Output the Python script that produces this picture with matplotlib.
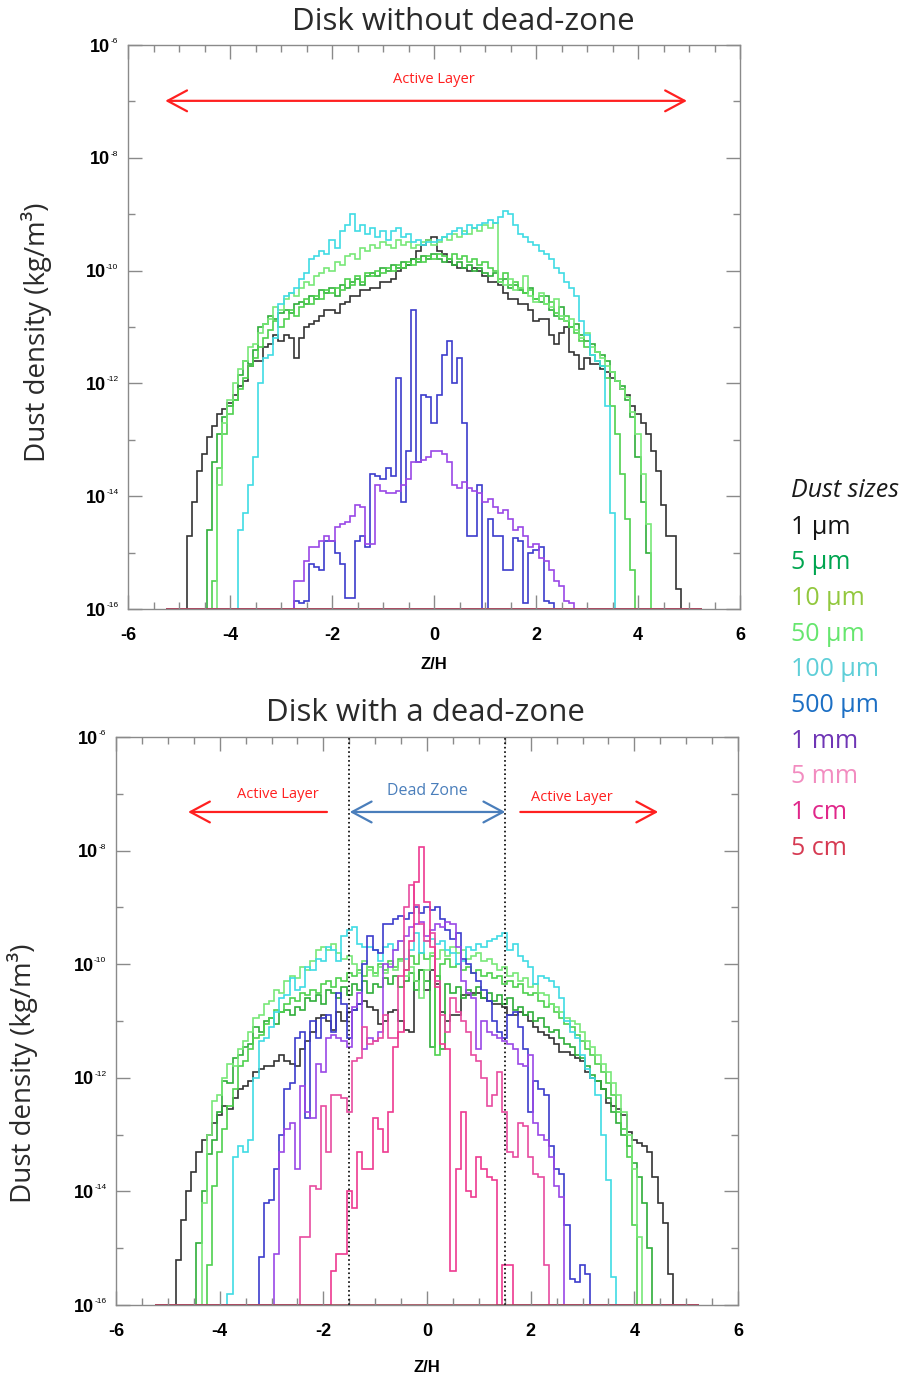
import numpy as np
import matplotlib.pyplot as plt
from matplotlib.ticker import FixedLocator, FuncFormatter, NullFormatter

sizes = ['1 µm', '5 µm', '10 µm', '50 µm', '100 µm', '500 µm', '1 mm', '5 mm', '1 cm', '5 cm']
line_colors = ['#333333', '#2fae3a', '#4fd14f', '#78e878', '#3fdbe4', '#3c3ccc',
               '#9a48e6', '#e84c9f', '#ee3a90', '#a8404f']
label_colors = ['#151515', '#00a550', '#92c83e', '#66e66e', '#5fcfd8', '#1c6fc4',
                '#6f35b5', '#f28cc0', '#e0278a', '#d63a52']

# histogram bins in Z/H
dz = 0.1
z_lo, z_hi = -5.25, 5.25
floor = 1e-16

# log10 dust density per bin; *_z0 is the centre of the first bin, None = empty bin
# ---- disk without dead-zone ----
top_1um_z0 = -4.8
top_1um = [-14.7, -14.1, -13.55, -13.25, -12.95, -12.75, -12.55, -12.45, -12.35,
           -12.2, -12.05, -11.95, -11.7, -11.6, -11.6, -11.35, -11.3, -11.15, -11.25,
           -11.15, -11.2, -11.55, -11.2, -11.0, -10.95, -10.9, -10.8, -10.7, -10.7,
           -10.75, -10.6, -10.55, -10.45, -10.45, -10.35, -10.35, -10.3, -10.3, -10.2,
           -10.2, -10.15, -10.0, -9.95, -9.9, -9.8, -9.65, -9.55, -9.45, -9.4,
           -9.65, -9.7, -9.85, -9.9, -9.95, -9.95, -10.0, -9.95, -10.0, -10.1,
           -10.2, -10.2, -10.25, -10.4, -10.5, -10.5, -10.6, -10.6, -10.7, -10.9,
           -10.85, -10.85, -11.15, -11.3, -11.1, -11.0, -11.45, -11.5, -11.75, -11.55,
           -11.65, -11.65, -11.75, -11.8, -11.9, -11.95, -12.1, -12.2, -12.4, -12.55,
           -12.7, -12.9, -13.2, -13.55, -14.15, -14.7, -14.7, -15.65]
top_5um_z0 = -4.4
top_5um = [-14.6, -13.4, -12.9, -12.6, -12.4,
           -12.3, -11.85, -11.6, -11.65, -11.4, -11.0, -10.95, -10.8, -10.85, -10.75,
           -10.7, -10.75, -10.6, -10.55, -10.6, -10.45, -10.5, -10.35, -10.4, -10.3,
           -10.45, -10.25, -10.3, -10.2, -10.15, -10.25, -10.1, -10.05, -10.1, -9.95,
           -10.0, -9.9, -9.95, -9.85, -9.9, -9.8, -9.85, -9.75, -9.8, -9.7,
           -9.8, -9.85, -9.8, -9.9, -9.85, -9.95, -9.9, -10.0, -9.95, -10.05,
           -10.1, -10.05, -10.2, -10.15, -10.3, -10.25, -10.35, -10.4, -10.3, -10.5,
           -10.55, -10.45, -10.7, -10.8, -10.65, -10.9, -11.0, -10.95, -11.15, -11.25,
           -11.3, -11.45, -11.5, -11.6, -11.8, -11.95, -12.05, -12.3, -12.6, -13.3,
           -14.1, -15.0]
top_10um_z0 = -4.3
top_10um = [-15.5, -13.5, -12.9, -12.55,
            -12.3, -12.1, -11.9, -11.7, -11.55, -11.35, -11.2, -11.05, -10.9, -11.0,
            -10.85, -10.7, -10.8, -10.65, -10.5, -10.6, -10.45, -10.5, -10.35, -10.4,
            -10.3, -10.35, -10.15, -10.25, -10.1, -10.2, -10.05, -10.1, -10.0, -10.05,
            -9.95, -10.0, -9.9, -9.95, -9.85, -9.9, -9.8, -9.85, -9.75, -9.8,
            -9.7, -9.75, -9.8, -9.7, -9.8, -9.75, -9.85, -9.8, -9.9, -9.85,
            -9.95, -10.0, -10.15, -10.05, -10.25, -10.2, -10.3, -10.4, -10.35, -10.5,
            -10.45, -10.6, -10.55, -10.75, -10.85, -10.8, -11.0, -11.1, -11.25, -11.35,
            -11.5, -11.6, -11.7, -11.9, -12.4, -12.9, -13.6, -14.4, -15.3]
top_50um_z0 = -4.2
top_50um = [-13.8, -12.7, -12.3,
            -12.0, -11.75, -11.6, -11.35, -11.3, -11.1, -10.95, -10.85, -10.65, -10.7,
            -10.5, -10.4, -10.45, -10.3, -10.2, -10.25, -10.1, -10.05, -9.95, -10.0,
            -9.85, -9.9, -9.75, -9.7, -9.8, -9.6, -9.65, -9.55, -9.6, -9.5,
            -9.55, -9.6, -9.45, -9.55, -9.5, -9.6, -9.55, -9.5, -9.45, -9.55,
            -9.5, -9.4, -9.45, -9.35, -9.4, -9.3, -9.35, -9.25, -9.3, -9.2,
            -9.25, -9.15, -10.2, -10.25, -10.15, -10.35, -10.3, -10.1, -10.45, -10.55,
            -10.4, -10.6, -10.65, -10.5, -10.8, -10.9, -10.85, -11.05, -11.2, -11.1,
            -11.35, -11.45, -11.55, -11.7, -11.8, -11.95, -12.1, -12.25, -12.5, -12.9,
            -13.6, -14.5]
top_100um_z0 = -3.8
top_100um = [-14.6, -14.3, -13.8, -13.3, -12.0, -11.55, -11.5, -11.2, -10.6,
             -10.45, -10.4, -10.3, -10.15, -10.05, -9.8, -9.75, -9.65, -9.7, -9.45,
             -9.6, -9.3, -9.2, -9.0, -9.3, -9.2, -9.35, -9.25, -9.4, -9.3,
             -9.45, -9.3, -9.25, -9.4, -9.35, -9.5, -9.45, -9.55, -9.5, -9.5,
             -9.45, -9.4, -9.35, -9.3, -9.25, -9.35, -9.2, -9.25, -9.2, -9.15,
             -9.1, -9.15, -9.05, -8.95, -9.0, -9.2, -9.35, -9.4, -9.5, -9.55,
             -9.65, -9.7, -9.8, -9.95, -10.05, -10.2, -10.3, -10.45, -10.9, -11.15,
             -11.5, -11.6, -11.7, -12.4, -14.3]
top_500um_z0 = -2.7
top_500um = [-15.85, -15.9, -15.85, -15.2, -15.25, -15.3, -14.8, -14.8,
             -15.0, -15.2, -15.8, -15.8, -14.8, -14.7, -14.9, -13.6, -13.65, -13.7,
             -13.5, -13.65, -11.9, -14.1, -13.2, -10.7, -13.4, -12.2, -12.25, -12.7,
             -12.2, -11.5, -11.25, -12.0, -11.55, -12.7, -14.7, -14.7, -13.8, None,
             -14.4, -14.7, -14.7, -15.3, -15.3, -14.75, -14.8, -15.9, -15.0, -14.95,
             -14.9, -15.85, -15.9]
top_1mm_z0 = -2.7
top_1mm = [-15.5, -15.5, -15.15, -14.9, -14.9, -14.8, -14.7, -14.8,
           -14.55, -14.5, -14.45, -14.35, -14.15, -14.2, -14.85, -14.85, -13.8, -13.9,
           -13.95, -13.95, -13.9, -13.8, -13.7, -13.4, -13.4, -13.35, -13.3, -13.2,
           -13.2, -13.25, -13.4, -13.8, -13.85, -13.75, -13.85, -13.9, -13.95, -14.1,
           -14.05, -14.2, -14.3, -14.25, -14.4, -14.6, -14.55, -14.7, -14.9, -14.85,
           -15.1, -15.15, -15.3, -15.5, -15.6, -15.85, -15.9]
top_5mm_z0, top_5mm = 0.0, []
top_1cm_z0, top_1cm = 0.0, []
top_5cm_z0, top_5cm = 0.0, []

# ---- disk with a dead-zone ----
bot_1um_z0 = -4.8
bot_1um = [-15.2, -14.5, -14.0, -13.65, -13.3, -13.1, -13.0, -12.8, -12.65,
           -12.5, -12.55, -12.35, -12.2, -12.15, -12.05, -11.9, -11.85, -11.8, -11.8,
           -11.7, -11.6, -11.7, -11.75, -11.8, -11.5, -11.35, -11.2, -10.95, -10.9,
           -11.0, -11.15, -10.85, -11.0, -10.85, -10.8, -10.7, -10.65, -10.75, -10.8,
           -11.05, -11.0, -10.85, -10.8, -11.0, -11.15, -11.2, -10.3, -10.1, -10.45,
           -10.1, -10.35, -10.85, -11.0, -10.9, -10.9, -10.55, -10.55, -10.5, -10.5,
           -10.6, -10.65, -10.7, -10.7, -10.75, -10.9, -10.9, -10.85, -10.9, -11.0,
           -11.1, -11.2, -11.25, -11.3, -11.4, -11.55, -11.55, -11.6, -11.65, -11.7,
           -11.9, -12.0, -12.05, -12.2, -12.45, -12.5, -12.55, -12.65, -12.95, -13.1,
           -13.15, -13.2, -13.3, -13.75, -14.2, -14.55, -15.45]
bot_5um_z0 = -4.4
bot_5um = [-14.9, -14.0, -13.35, -13.1, -12.6,
           -12.05, -12.1, -11.65, -11.6, -11.45, -11.4, -11.1, -11.2, -11.0, -10.95,
           -11.05, -10.85, -10.8, -10.9, -10.75, -10.8, -10.6, -10.65, -10.55, -10.7,
           -10.45, -10.5, -10.6, -10.4, -10.55, -10.35, -10.45, -10.3, -10.5, -10.35,
           -10.4, -10.25, -10.35, -10.2, -10.4, -10.3, -10.15, -10.45, -10.1, -10.3,
           -11.45, -10.2, -11.5, -10.35, -10.5, -10.4, -10.6, -10.45, -10.55, -10.4,
           -10.6, -10.5, -10.65, -10.55, -10.7, -10.6, -10.8, -10.75, -10.9, -10.85,
           -11.0, -10.95, -11.1, -11.2, -11.15, -11.3, -11.4, -11.45, -11.6, -11.65,
           -11.8, -11.95, -12.05, -12.2, -12.35, -12.6, -12.8, -13.0, -13.2, -13.5,
           -13.75, -14.2, -15.0]
bot_10um_z0 = -4.2
bot_10um = [-15.3, -13.9, -13.3,
            -12.9, -12.5, -12.2, -11.8, -11.7, -11.5, -11.3, -11.25, -11.05, -10.95,
            -10.8, -10.85, -10.7, -10.6, -10.65, -10.5, -10.55, -10.45, -10.5, -10.35,
            -10.3, -10.4, -10.25, -10.3, -10.15, -10.2, -10.1, -10.2, -10.05, -10.15,
            -10.0, -10.1, -9.95, -10.05, -9.9, -10.1, -9.85, -10.0, -9.8, -9.9,
            -9.85, -11.6, -10.0, -9.9, -10.05, -10.0, -10.1, -10.05, -10.15, -10.1,
            -10.2, -10.15, -10.25, -10.2, -10.35, -10.3, -10.4, -10.35, -10.5, -10.55,
            -10.5, -10.65, -10.75, -10.7, -10.85, -10.95, -11.05, -11.1, -11.25, -11.35,
            -11.5, -11.6, -11.75, -11.9, -12.1, -12.3, -12.6, -12.9, -13.4, -14.6]
bot_50um_z0 = -4.3
bot_50um = [-14.2, -13.0, -12.4, -12.3,
            -12.0, -11.75, -11.8, -11.5, -11.35, -11.2, -10.95, -10.9, -10.7, -10.65,
            -10.45, -10.5, -10.3, -10.2, -10.25, -10.05, -10.1, -9.95, -9.75, -9.7,
            -9.75, -9.65, -9.8, -9.9, -9.85, -10.0, -10.15, -9.95, -10.1, -10.2,
            -10.05, -10.15, -10.0, -10.1, -9.95, -10.2, -10.05, -10.3, -10.6, -10.1,
            -9.8, -9.9, -9.75, -9.85, -9.7, -9.8, -9.75, -9.9, -9.85, -9.8,
            -9.95, -9.9, -10.0, -10.1, -10.05, -10.2, -10.15, -10.3, -10.25, -10.4,
            -10.35, -10.5, -10.55, -10.7, -10.75, -10.85, -10.95, -11.0, -11.05, -11.2,
            -11.35, -11.45, -11.6, -11.75, -11.9, -12.1, -12.3, -12.6, -13.0, -13.6,
            -14.8]
bot_100um_z0 = -3.8
bot_100um = [-15.8, -13.4, -13.2, -13.3, -13.1, -12.0, -11.35, -11.3, -11.1,
             -10.85, -10.6, -10.55, -10.25, -10.45, -10.4, -10.05, -10.1, -9.9, -9.95,
             -9.7, -9.75, -9.95, -9.5, -9.4, -9.35, -9.65, -9.7, -9.7, -9.75,
             -9.95, -9.7, -9.65, -9.75, -9.6, -9.9, -9.75, -9.45, -9.8, -9.6,
             -9.55, -9.65, -9.6, -9.75, -9.8, -10.0, -9.95, -9.7, -9.75, -9.65,
             -9.7, -9.6, -9.55, -9.5, -9.45, -9.75, -9.65, -9.85, -9.95, -10.05,
             -10.35, -10.2, -10.25, -10.3, -10.4, -10.6, -11.0, -11.2, -11.3, -11.6,
             -11.85, -12.0, -12.3, -13.0, -13.8, -15.5]
bot_500um_z0 = -3.2
bot_500um = [-15.15, -14.2, -14.15,
             -13.6, -13.0, -12.2, -12.1, -11.3, -11.2, -12.7, -11.0, -11.3, -10.95,
             -10.9, -11.2, -10.5, -10.7, -11.3, -10.8, -10.7, -10.0, -9.5, -9.75,
             -9.8, -9.3, -9.3, -9.2, -9.15, -9.2, -9.1, -9.0, -9.1, -9.0,
             -9.05, -9.0, -9.2, -9.4, -9.55, -9.45, -9.9, -10.0, -10.15, -10.3,
             -10.45, -10.65, -11.0, -11.2, -11.3, -10.9, -10.85, -11.1, -11.5, -12.6,
             -12.05, -12.2, -12.3, -13.2, -13.6, -13.7, -14.6, -15.55, -15.6, -15.3,
             -15.45]
bot_1mm_z0 = -2.9
bot_1mm = [-15.1, -13.3, -12.9, -12.8, -13.6, -12.15, -12.6, -12.7, -11.75, -11.9,
           -11.3, -11.25, -11.3, -11.35, -11.45, -10.75, -10.5, -11.5, -11.3, -11.35,
           -11.2, -10.0, -10.05, -9.75, -9.6, -9.5, -9.35, -9.3, -9.25, -9.5,
           -9.4, -9.3, -9.35, -9.25, -9.3, -9.7, -10.3, -10.5, -10.6, -11.5,
           -11.0, -11.2, -11.25, -11.3, -11.35, -11.4, -11.5, -11.75, -11.8, -11.6,
           -12.8, -13.0, -13.1, -13.4, -13.9, -14.1]
bot_5mm_z0 = -2.4
bot_5mm = [-14.8, -14.8, -13.9, -13.95, -12.5,
           -13.3, -12.3, -12.3, -12.35, -12.6, -11.7, -11.65, -11.1, -11.4, -11.35,
           -11.3, -10.9, -11.3, -11.3, -10.2, -9.0, -8.6, -8.95, -9.3, -9.6,
           -9.45, -10.3, -10.9, -11.2, -10.6, -10.85, -11.0, -11.2, -11.6, -11.7,
           -12.0, -12.5, -12.3, -11.9, -12.6, -13.3, -13.4, -12.8, -12.85, -13.4,
           -13.7, -13.75, -15.3]
bot_1cm_z0 = -1.8
bot_1cm = [-15.4, -15.1, -15.1, -14.0, -14.3, -13.3, -13.6, -13.6, -12.7,
           -12.9, -13.3, -12.6, -11.45, -11.2, -10.1, -9.6, -8.55, -7.93, -8.9,
           -9.7, -10.4, -11.4, -11.5, -15.4, -13.6, -12.6, -14.0, -14.1, -13.4,
           -13.6, -13.75, -13.8, None, -15.3, -15.3]
bot_5cm_z0, bot_5cm = 0.0, []

top_series = [(top_1um_z0, top_1um), (top_5um_z0, top_5um), (top_10um_z0, top_10um),
              (top_50um_z0, top_50um), (top_100um_z0, top_100um), (top_500um_z0, top_500um),
              (top_1mm_z0, top_1mm), (top_5mm_z0, top_5mm), (top_1cm_z0, top_1cm),
              (top_5cm_z0, top_5cm)]
bot_series = [(bot_1um_z0, bot_1um), (bot_5um_z0, bot_5um), (bot_10um_z0, bot_10um),
              (bot_50um_z0, bot_50um), (bot_100um_z0, bot_100um), (bot_500um_z0, bot_500um),
              (bot_1mm_z0, bot_1mm), (bot_5mm_z0, bot_5mm), (bot_1cm_z0, bot_1cm),
              (bot_5cm_z0, bot_5cm)]

nbins = int(round((z_hi - z_lo) / dz))
edges = np.linspace(z_lo, z_hi, nbins + 1)


def profile(z0, logs):
    dens = np.zeros(nbins)
    if logs:
        vals = np.array([np.nan if v is None else v for v in logs], dtype=float)
        i0 = int(round((z0 - dz / 2 - z_lo) / dz))
        dens[i0:i0 + len(vals)] = np.nan_to_num(10.0 ** vals, nan=0.0)
    # empty bins sit on the bottom of the log axis
    return np.clip(dens, floor, None)


W, H = 914, 1383
fig = plt.figure(figsize=(W / 100, H / 100), dpi=100)
ui_font = 'Open Sans'


def fx(x):
    return x / W


def fy(y):
    return 1 - y / H


def setup(ax):
    ax.set_yscale('log')
    ax.set_xlim(-6, 6)
    ax.set_ylim(1e-16, 1e-6)
    ax.xaxis.set_major_locator(FixedLocator(np.arange(-6, 7, 2)))
    ax.xaxis.set_minor_locator(FixedLocator(np.arange(-6, 6.01, 0.5)))
    ax.xaxis.set_major_formatter(FuncFormatter(lambda v, p: f'{v:g}'))
    ax.yaxis.set_major_locator(FixedLocator([10.0 ** k for k in range(-16, -5, 2)]))
    ax.yaxis.set_minor_locator(FixedLocator([10.0 ** k for k in range(-15, -6, 2)]))
    ax.yaxis.set_major_formatter(NullFormatter())
    ax.yaxis.set_minor_formatter(NullFormatter())
    ax.tick_params(which='both', direction='in', top=True, right=True, color='#8a8a8a')
    ax.tick_params(which='major', length=10, width=1)
    ax.tick_params(which='minor', length=5, width=1)
    ax.tick_params(axis='x', which='major', pad=13, labelsize=13)
    for lab in ax.get_xticklabels():
        lab.set_family('Liberation Sans')
        lab.set_weight('bold')
    for s in ax.spines.values():
        s.set_color('#8a8a8a')
        s.set_linewidth(1)
    # y labels as a large "10" with a tiny exponent
    for k in range(-16, -5, 2):
        sup = ax.annotate(str(k), xy=(0, 10.0 ** k), xycoords=('axes fraction', 'data'),
                          xytext=(-7, 0), textcoords='offset points', ha='right',
                          va='bottom', fontsize=6, family='Liberation Sans')
        ax.annotate('10', xy=(0, 0), xycoords=sup, xytext=(-0.3, -1.5),
                    textcoords='offset points', ha='right', va='center',
                    fontsize=13, weight='bold', family='Liberation Sans')


def draw(ax, series):
    for (z0, logs), c in zip(series, line_colors):
        ax.stairs(profile(z0, logs), edges, color=c, lw=1.2, baseline=None)


arrow_red = '#ff2020'
arrow_blue = '#4a7ebb'
head = '<->,head_length=1.4,head_width=0.75'
head_one = '->,head_length=1.4,head_width=0.75'

ax1 = fig.add_axes([fx(128), fy(609), fx(740) - fx(128), fy(45) - fy(609)])
setup(ax1)
draw(ax1, top_series)
ax1.annotate('', xy=(-5.27, 10 ** -6.99), xytext=(4.96, 10 ** -6.99),
             arrowprops=dict(arrowstyle=head, color=arrow_red, lw=1.6, shrinkA=0, shrinkB=0))
ax1.text(0, 10 ** -6.62, 'Active Layer', color=arrow_red, fontsize=10.5,
         family=ui_font, ha='center', va='center')

ax2 = fig.add_axes([fx(116), fy(1305), fx(738) - fx(116), fy(737) - fy(1305)])
setup(ax2)
draw(ax2, bot_series)
for zb in (-1.5, 1.5):
    ax2.axvline(zb, color='black', ls=':', lw=1.2)
arrow_y = 10 ** -7.32
ax2.annotate('', xy=(-4.61, arrow_y), xytext=(-1.93, arrow_y),
             arrowprops=dict(arrowstyle=head_one, color=arrow_red, lw=1.6, shrinkA=0, shrinkB=0))
ax2.annotate('', xy=(-1.49, arrow_y), xytext=(1.51, arrow_y),
             arrowprops=dict(arrowstyle=head, color=arrow_blue, lw=1.6, shrinkA=0, shrinkB=0))
ax2.annotate('', xy=(4.46, arrow_y), xytext=(1.8, arrow_y),
             arrowprops=dict(arrowstyle=head_one, color=arrow_red, lw=1.6, shrinkA=0, shrinkB=0))
ax2.text(-2.88, 10 ** -7.02, 'Active Layer', color=arrow_red, fontsize=10.5,
         family=ui_font, ha='center', va='center')
ax2.text(0, 10 ** -6.95, 'Dead Zone', color=arrow_blue, fontsize=11.5,
         family=ui_font, ha='center', va='center')
ax2.text(2.8, 10 ** -7.06, 'Active Layer', color=arrow_red, fontsize=10.5,
         family=ui_font, ha='center', va='center')

# titles and axis labels
fig.text(fx(463), fy(22), 'Disk without dead-zone', fontsize=22.5, family=ui_font,
         color='#2a2a2a', ha='center', va='center')
fig.text(fx(425), fy(713), 'Disk with a dead-zone', fontsize=22.5, family=ui_font,
         color='#2a2a2a', ha='center', va='center')
fig.text(fx(37), fy(332), 'Dust density (kg/m³)', fontsize=20, family=ui_font,
         color='#2a2a2a', rotation=90, ha='center', va='center')
fig.text(fx(23), fy(1073), 'Dust density (kg/m³)', fontsize=20, family=ui_font,
         color='#2a2a2a', rotation=90, ha='center', va='center')
fig.text(fx(434), fy(664), 'Z/H', fontsize=12, family='Liberation Sans',
         weight='bold', ha='center', va='center')
fig.text(fx(427), fy(1367), 'Z/H', fontsize=12, family='Liberation Sans',
         weight='bold', ha='center', va='center')

# size key
fig.text(fx(791), fy(490), 'Dust sizes', fontsize=18, family=ui_font, style='italic',
         color='#1a1a1a', ha='left', va='center')
for i, (name, c) in enumerate(zip(sizes, label_colors)):
    fig.text(fx(791), fy(527 + 35.7 * i), name, fontsize=18, family=ui_font,
             color=c, ha='left', va='center')

fig.savefig('out.png', dpi=100)
